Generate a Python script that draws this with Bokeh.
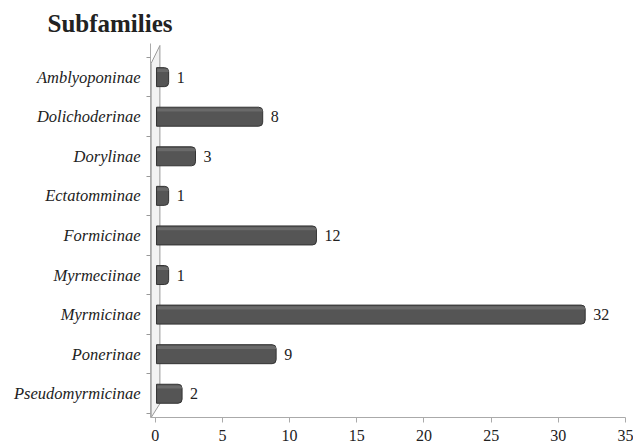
from bokeh.plotting import figure
from bokeh.models import ColumnDataSource, FixedTicker, Range1d
from bokeh.core.properties import value
from bokeh.transform import dodge
from bokeh.embed import file_html
from bokeh.resources import INLINE

categories = ["Amblyoponinae", "Dolichoderinae", "Dorylinae", "Ectatomminae", "Formicinae",
              "Myrmeciinae", "Myrmicinae", "Ponerinae", "Pseudomyrmicinae"]
counts = [1, 8, 3, 1, 12, 1, 32, 9, 2]
x_ticks = [0, 5, 10, 15, 20, 25, 30, 35]

n = len(categories)
ypos = [n - 1 - i for i in range(n)]  # top to bottom
src = ColumnDataSource(dict(y=ypos, v=counts, lab=[str(c) for c in counts], cat=categories))

p = figure(width=633, height=446, output_backend="svg", toolbar_location=None,
           x_range=Range1d(-0.35, 35), y_range=Range1d(-0.6, n - 1 + 0.85),
           min_border_left=150, min_border_right=8, min_border_top=42, min_border_bottom=29,
           title="Subfamilies")
p.title.text_font = "Liberation Serif"
p.title.text_font_size = "25px"
p.title.text_font_style = "bold"
p.title.text_color = "#222222"
p.title.offset = -103
p.title.standoff = 14

p.outline_line_color = None
p.xgrid.grid_line_color = None
p.ygrid.grid_line_color = None
p.background_fill_color = "white"
p.border_fill_color = "white"

# side wall
p.patch([-0.3, -0.3, 0.35, 0.35], [-0.6, n - 1 + 0.35, n - 1 + 0.8, -0.25],
        fill_color="#f2f2f2", line_color="#9a9a9a", line_width=1)

# bars
p.hbar(y="y", right="v", left=0.1, height=0.48, source=src,
       fill_color="#555555", line_color="#333333", line_width=1,
       border_radius=(0, 4, 4, 0))
p.hbar(y=dodge("y", 0.17, range=p.y_range), right="v", left=0.15, height=0.08, source=src,
       fill_color="#6a6a6a", line_color=None, border_radius=(0, 3, 0, 0))

p.text(x="v", y="y", text="lab", source=src, x_offset=8,
       text_font=value("Liberation Serif"), text_font_size="16px",
       text_baseline="middle", text_color="#222222")

# axes
p.xaxis.ticker = FixedTicker(ticks=x_ticks)
p.xaxis.axis_line_color = "#aaaaaa"
p.xaxis.major_tick_line_color = "#aaaaaa"
p.xaxis.major_tick_out = 5
p.xaxis.major_tick_in = 0
p.xaxis.minor_tick_line_color = None
p.xaxis.major_label_text_font = "Liberation Serif"
p.xaxis.major_label_text_font_size = "16px"
p.xaxis.major_label_text_color = "#222222"
p.xaxis.major_label_standoff = 7

p.yaxis.ticker = FixedTicker(ticks=ypos, minor_ticks=[i + 0.5 for i in range(-1, n)])
p.yaxis.major_label_overrides = {y: c for y, c in zip(ypos, categories)}
p.yaxis.axis_line_color = "#aaaaaa"
p.yaxis.major_tick_line_color = None
p.yaxis.minor_tick_line_color = "#999999"
p.yaxis.minor_tick_out = 4
p.yaxis.minor_tick_in = 0
p.yaxis.major_label_text_font = "Liberation Serif"
p.yaxis.major_label_text_font_style = "italic"
p.yaxis.major_label_text_font_size = "16.5px"
p.yaxis.major_label_text_color = "#222222"
p.yaxis.major_label_standoff = 4

open("out.html", "w").write(file_html(p, INLINE))
